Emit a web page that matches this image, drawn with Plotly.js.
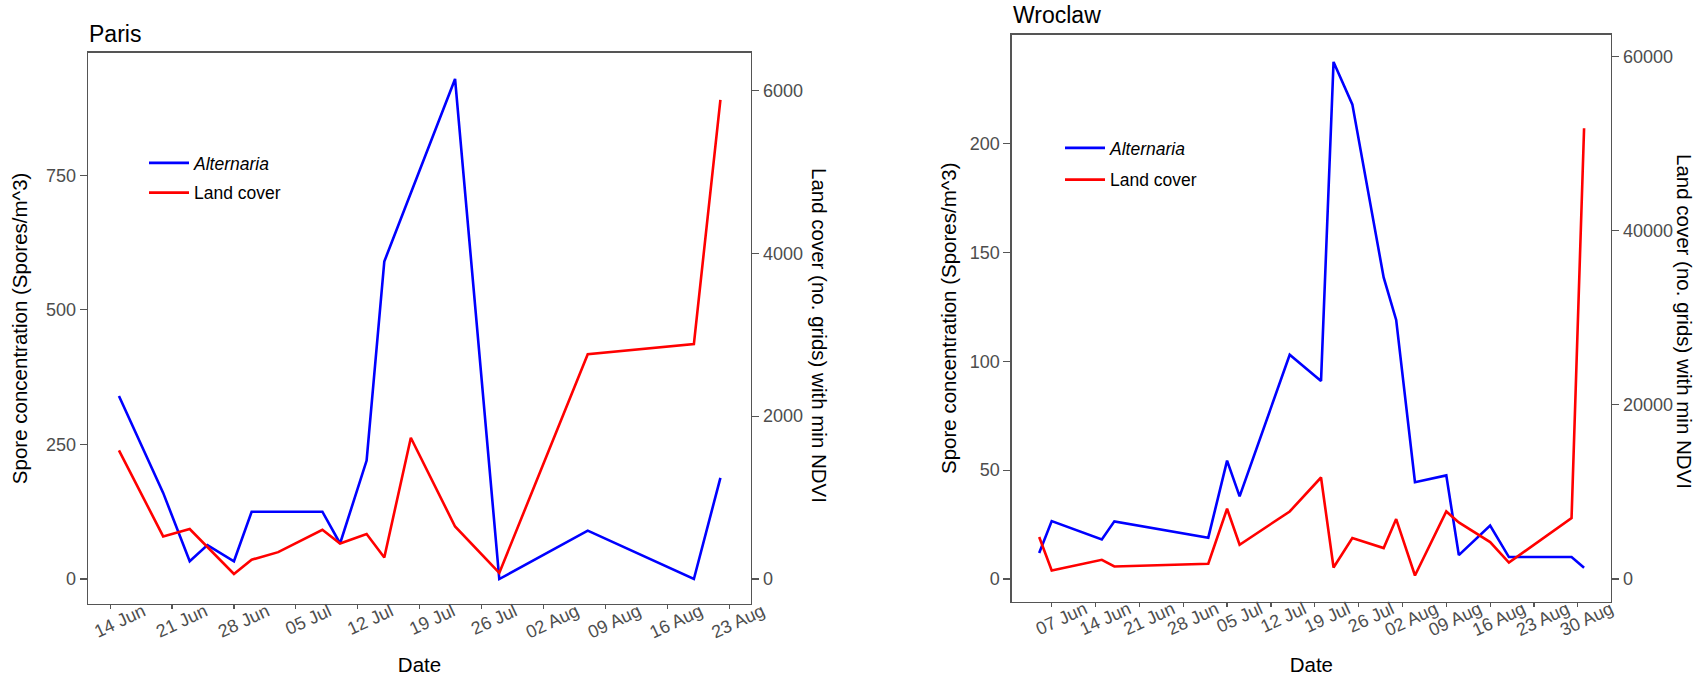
<!DOCTYPE html>
<html>
<head>
<meta charset="utf-8">
<script src="https://cdn.plot.ly/plotly-3.0.1.min.js"></script>
<style>
html, body { margin: 0; padding: 0; background: #ffffff; }
#chart { width: 1707px; height: 676px; }
</style>
</head>
<body>
<div id="chart"></div>
<script>
// ---------------- Paris ----------------
const parisAltDates = ['2019-06-15','2019-06-20','2019-06-23','2019-06-25','2019-06-28','2019-06-30','2019-07-08','2019-07-10','2019-07-13','2019-07-15','2019-07-23','2019-07-28','2019-08-07','2019-08-19','2019-08-22'];
const parisAlt = [340, 160, 33, 63, 33, 125, 125, 66, 220, 590, 929, 0, 90, 0, 188];
const parisLandDates = ['2019-06-15','2019-06-20','2019-06-23','2019-06-28','2019-06-30','2019-07-03','2019-07-08','2019-07-10','2019-07-13','2019-07-15','2019-07-18','2019-07-23','2019-07-28','2019-08-07','2019-08-19','2019-08-22'];
const parisLand = [1580, 523, 613, 62, 237, 330, 605, 435, 552, 265, 1735, 645, 75, 2760, 2885, 5885];
const parisXTicks = ['2019-06-14','2019-06-21','2019-06-28','2019-07-05','2019-07-12','2019-07-19','2019-07-26','2019-08-02','2019-08-09','2019-08-16','2019-08-23'];
const parisLeftTicks = [0, 250, 500, 750];
const parisRightTicks = [0, 2000, 4000, 6000];

// ---------------- Wroclaw ----------------
const wroAltDates = ['2019-06-05','2019-06-07','2019-06-15','2019-06-17','2019-07-02','2019-07-05','2019-07-07','2019-07-15','2019-07-20','2019-07-22','2019-07-25','2019-07-30','2019-08-01','2019-08-04','2019-08-09','2019-08-11','2019-08-16','2019-08-19','2019-08-29','2019-08-31'];
const wroAlt = [12, 26.6, 18.2, 26.5, 19, 54.4, 38, 103, 91, 237.5, 218, 138.5, 119, 44.5, 47.6, 11, 24.6, 10.1, 10.1, 5.2];
const wroLandDates = ['2019-06-05','2019-06-07','2019-06-15','2019-06-17','2019-07-02','2019-07-05','2019-07-07','2019-07-15','2019-07-20','2019-07-22','2019-07-25','2019-07-30','2019-08-01','2019-08-04','2019-08-09','2019-08-11','2019-08-16','2019-08-19','2019-08-29','2019-08-31'];
const wroLand = [4820, 990, 2215, 1450, 1755, 8070, 3940, 7760, 11660, 1330, 4700, 3560, 6890, 410, 7760, 6500, 4250, 1900, 7000, 51750];
const wroXTicks = ['2019-06-07','2019-06-14','2019-06-21','2019-06-28','2019-07-05','2019-07-12','2019-07-19','2019-07-26','2019-08-02','2019-08-09','2019-08-16','2019-08-23','2019-08-30'];
const wroLeftTicks = [0, 50, 100, 150, 200];
const wroRightTicks = [0, 20000, 40000, 60000];

const seriesNames = ['<i>Alternaria</i>', 'Land cover'];
const seriesColors = ['#0000ff', '#ff0000'];

const W = 1707, H = 676;
const FONT = 'Liberation Sans, Arial, Helvetica, sans-serif';
const tickFont = {family: FONT, size: 18, color: '#4d4d4d'};
const axTitleFont = {family: FONT, size: 20.5, color: '#000000'};
const frameColor = '#555555';

const px = v => v / W;
const py = v => 1 - v / H;

const traces = [
  {x: parisAltDates, y: parisAlt, xaxis: 'x', yaxis: 'y', name: seriesNames[0], type: 'scatter', mode: 'lines',
   line: {color: seriesColors[0], width: 2.6}, legend: 'legend', legendgroup: 'pa'},
  {x: parisLandDates, y: parisLand, xaxis: 'x', yaxis: 'y2', name: seriesNames[1], type: 'scatter', mode: 'lines',
   line: {color: seriesColors[1], width: 2.6}, legend: 'legend', legendgroup: 'pl'},
  {x: wroAltDates, y: wroAlt, xaxis: 'x2', yaxis: 'y3', name: seriesNames[0], type: 'scatter', mode: 'lines',
   line: {color: seriesColors[0], width: 2.6}, legend: 'legend2', legendgroup: 'wa'},
  {x: wroLandDates, y: wroLand, xaxis: 'x2', yaxis: 'y4', name: seriesNames[1], type: 'scatter', mode: 'lines',
   line: {color: seriesColors[1], width: 2.6}, legend: 'legend2', legendgroup: 'wl'}
];

function xAxis(domain, range, ticks, anchor) {
  return {
    domain: domain, anchor: anchor, type: 'date', range: range,
    tickmode: 'array', tickvals: ticks, tickformat: '%d %b',
    tickangle: -25, tickfont: tickFont, ticks: 'outside', ticklen: 4, tickcolor: frameColor, tickwidth: 1.2,
    ticklabelshift: 33, ticklabelstandoff: -15,
    showline: true, mirror: true, linecolor: frameColor, linewidth: 1.3,
    showgrid: false, zeroline: false,
    title: {text: 'Date', font: axTitleFont, standoff: 32}
  };
}
function yAxis(domain, range, ticks, anchor, title, standoff) {
  return {
    domain: domain, anchor: anchor, range: range,
    tickmode: 'array', tickvals: ticks,
    tickfont: tickFont, ticks: 'outside', ticklen: 7, tickcolor: frameColor, tickwidth: 1.2,
    showline: true, mirror: true, linecolor: frameColor, linewidth: 1.3,
    showgrid: false, zeroline: false,
    title: {text: title, font: axTitleFont, standoff: standoff}
  };
}
function y2Axis(overlay, anchor, range, ticks) {
  return {
    overlaying: overlay, anchor: anchor, side: 'right', range: range,
    tickmode: 'array', tickvals: ticks, tickformat: 'd',
    tickfont: tickFont, ticks: 'outside', ticklen: 7, tickcolor: frameColor, tickwidth: 1.2,
    showline: true, linecolor: frameColor, linewidth: 1.3,
    showgrid: false, zeroline: false
  };
}

const parisXDom = [px(88), px(751)];
const parisYDom = [py(604), py(52.7)];
const wroXDom = [px(1011.7), px(1611)];
const wroYDom = [py(601.7), py(34.7)];

const legendFont = {family: FONT, size: 17.5, color: '#000'};

const layout = {
  width: W, height: H,
  margin: {l: 0, r: 0, t: 0, b: 0},
  paper_bgcolor: '#ffffff', plot_bgcolor: '#ffffff',
  showlegend: true,
  font: {family: FONT},
  xaxis: xAxis(parisXDom, ['2019-06-11 12:00', '2019-08-25 11:00'], parisXTicks, 'y'),
  yaxis: yAxis(parisYDom, [-46.4, 977.8], parisLeftTicks, 'x', 'Spore concentration (Spores/m^3)', 13),
  yaxis2: y2Axis('y', 'x', [-307, 6463], parisRightTicks),
  xaxis2: xAxis(wroXDom, ['2019-05-31 14:40', '2019-09-04 07:10'], wroXTicks, 'y3'),
  yaxis3: yAxis(wroYDom, [-10.4, 250.0], wroLeftTicks, 'x2', 'Spore concentration (Spores/m^3)', 7),
  yaxis4: y2Axis('y3', 'x2', [-2600, 62500], wroRightTicks),
  legend: {x: px(144), y: py(145), xanchor: 'left', yanchor: 'top', bgcolor: 'rgba(0,0,0,0)',
           font: legendFont, itemwidth: 40, tracegroupgap: 4, traceorder: 'grouped'},
  legend2: {x: px(1060), y: py(130), xanchor: 'left', yanchor: 'top', bgcolor: 'rgba(0,0,0,0)',
            font: legendFont, itemwidth: 40, tracegroupgap: 6, traceorder: 'grouped'},
  annotations: [
    {text: 'Paris', xref: 'paper', yref: 'paper', x: px(87), y: py(34), xanchor: 'left', yanchor: 'middle',
     showarrow: false, font: {family: FONT, size: 23, color: '#000'}},
    {text: 'Wroclaw', xref: 'paper', yref: 'paper', x: px(1011), y: py(15), xanchor: 'left', yanchor: 'middle',
     showarrow: false, font: {family: FONT, size: 23, color: '#000'}},
    {text: 'Land cover (no. grids) with min NDVI', xref: 'paper', yref: 'paper', x: px(820), y: py(335),
     xanchor: 'center', yanchor: 'middle', textangle: 90, showarrow: false, font: axTitleFont},
    {text: 'Land cover (no. grids) with min NDVI', xref: 'paper', yref: 'paper', x: px(1685), y: py(321),
     xanchor: 'center', yanchor: 'middle', textangle: 90, showarrow: false, font: axTitleFont}
  ]
};

Plotly.newPlot('chart', traces, layout, {displayModeBar: false, responsive: false, staticPlot: true});
</script>
</body>
</html>
